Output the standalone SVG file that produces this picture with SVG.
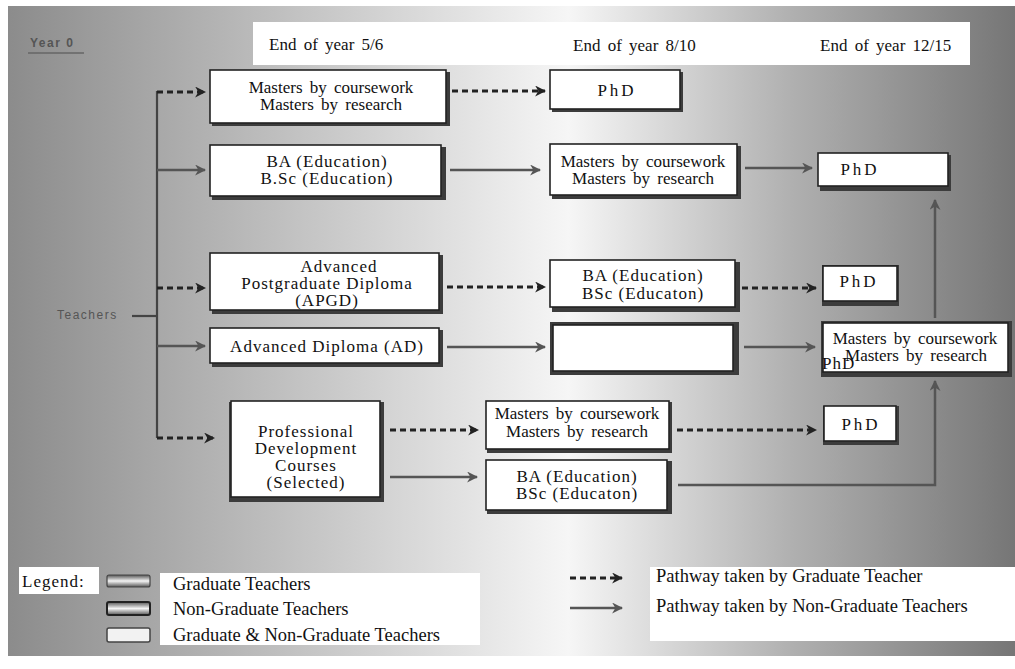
<svg xmlns="http://www.w3.org/2000/svg" width="1015" height="669" viewBox="0 0 1015 669">
  <defs>
    <linearGradient id="bg" x1="0" y1="0" x2="1015" y2="0" gradientUnits="userSpaceOnUse">
      <stop offset="0" stop-color="#8a8a8a"/>
      <stop offset="0.3" stop-color="#c4c4c4"/>
      <stop offset="0.56" stop-color="#f6f6f6"/>
      <stop offset="0.78" stop-color="#b0b0b0"/>
      <stop offset="1" stop-color="#767676"/>
    </linearGradient>
    <linearGradient id="sw" x1="0" y1="0" x2="0" y2="1">
      <stop offset="0" stop-color="#555"/>
      <stop offset="0.5" stop-color="#f4f4f4"/>
      <stop offset="1" stop-color="#555"/>
    </linearGradient>
    <marker id="ah" viewBox="0 0 10 10" refX="9" refY="5" markerWidth="11" markerHeight="11" markerUnits="userSpaceOnUse" orient="auto">
      <path d="M0,0 L10,5 L0,10 L3,5 Z" fill="#222"/>
    </marker>
    <marker id="ahs" viewBox="0 0 10 10" refX="9" refY="5" markerWidth="11" markerHeight="11" markerUnits="userSpaceOnUse" orient="auto">
      <path d="M0,0 L10,5 L0,10 L3,5 Z" fill="#555"/>
    </marker>
  </defs>
  <style>
    .t { font-family: "Liberation Serif", "Times New Roman", serif; font-size: 17px; fill: #111; }
    .lg { font-size: 18.5px; }
    .c { text-anchor: middle; }
    .sp { letter-spacing: 1px; }
    .ph { letter-spacing: 3px; }
    .ws { word-spacing: 3px; }
    .sh { fill: #3c3c3c; }
    .bx { fill: #fff; stroke: #222; stroke-width: 1.6; }
    .dash { fill: none; stroke: #222; stroke-width: 3; stroke-dasharray: 6 4; marker-end: url(#ah); }
    .sol { fill: none; stroke: #555; stroke-width: 2.5; marker-end: url(#ahs); }
    .ln { fill: none; stroke: #444; stroke-width: 2.2; }
    .sans { font-family: "Liberation Sans", Arial, sans-serif; font-size: 12px; fill: #555; letter-spacing: 1.5px; }
  </style>

  <rect x="0" y="0" width="1015" height="669" fill="#fff"/>
  <rect x="8" y="6" width="1007" height="650" fill="url(#bg)"/>

  <g id="header">
    <text class="sans" x="30" y="47" font-weight="bold">Year 0</text>
    <line x1="28" y1="53" x2="84" y2="53" stroke="#666" stroke-width="1.5"/>
    <rect x="253" y="22" width="717" height="43" fill="#fff"/>
    <text class="t ws" x="269" y="50">End of year 5/6</text>
    <text class="t ws" x="573" y="51">End of year 8/10</text>
    <text class="t ws" x="820" y="51">End of year 12/15</text>
  </g>

  <g id="teachers">
    <text class="sans" x="57" y="319" font-size="13">Teachers</text>
  </g>

  <g id="connectors">
    <line class="ln" x1="132" y1="316" x2="157" y2="316"/>
    <line class="ln" x1="157" y1="91" x2="157" y2="438"/>
    <path class="dash" d="M157,92 H205"/>
    <path class="sol" d="M157,170 H205"/>
    <path class="dash" d="M157,288 H205"/>
    <path class="sol" d="M157,346 H205"/>
    <path class="dash" d="M157,438 H214"/>

    <path class="dash" d="M452,91 H545"/>
    <path class="sol" d="M450,170 H540"/>
    <path class="sol" d="M745,168 H812"/>
    <path class="sol" d="M935,318 V200"/>

    <path class="dash" d="M447,287 H545"/>
    <path class="dash" d="M742,288 H816"/>
    <path class="sol" d="M447,347 H545"/>
    <path class="sol" d="M744,347 H815"/>

    <path class="dash" d="M390,430 H478"/>
    <path class="sol" d="M390,477 H477"/>
    <path class="dash" d="M677,430 H816"/>
    <path class="sol" d="M678,485 H935 V381"/>
  </g>

  <g id="n1">
    <rect class="sh" x="212" y="72" width="238" height="54"/>
    <rect class="bx" x="210" y="70" width="236" height="53"/>
    <text class="t c ws" x="331" y="93">Masters by coursework</text>
    <text class="t c ws" x="331" y="110">Masters by research</text>
  </g>
  <g id="n2">
    <rect class="sh" x="552" y="72" width="131" height="40"/>
    <rect class="bx" x="550" y="70" width="130" height="39"/>
    <text class="t c ph" x="617" y="96">PhD</text>
  </g>
  <g id="n3">
    <rect class="sh" x="212" y="147" width="234" height="53"/>
    <rect class="bx" x="210" y="145" width="231" height="51"/>
    <text class="t c sp" x="327" y="167">BA (Education)</text>
    <text class="t c sp" x="327" y="184">B.Sc (Education)</text>
  </g>
  <g id="n4">
    <rect class="sh" x="552" y="146" width="189" height="53"/>
    <rect class="bx" x="550" y="144" width="187" height="51"/>
    <text class="t c ws" x="643" y="167">Masters by coursework</text>
    <text class="t c ws" x="643" y="184">Masters by research</text>
  </g>
  <g id="n5">
    <rect class="sh" x="820" y="155" width="131" height="36"/>
    <rect class="bx" x="818" y="153" width="130" height="33"/>
    <text class="t c ph" x="860" y="175">PhD</text>
  </g>
  <g id="n6">
    <rect class="sh" x="212" y="255" width="231" height="59"/>
    <rect class="bx" x="210" y="253" width="229" height="57"/>
    <text class="t c sp" x="339" y="272">Advanced</text>
    <text class="t c sp" x="327" y="289">Postgraduate Diploma</text>
    <text class="t c sp" x="327" y="306">(APGD)</text>
  </g>
  <g id="n7">
    <rect class="sh" x="552" y="262" width="188" height="50"/>
    <rect class="bx" x="550" y="260" width="185" height="47"/>
    <text class="t c sp" x="643" y="281">BA (Education)</text>
    <text class="t c sp" x="643" y="299">BSc (Educaton)</text>
  </g>
  <g id="n8">
    <rect class="sh" x="822" y="265" width="77" height="41"/>
    <rect class="bx" x="823" y="266" width="74" height="35"/>
    <text class="t c ph" x="859" y="287">PhD</text>
  </g>
  <g id="n9">
    <rect class="sh" x="212" y="330" width="231" height="37"/>
    <rect class="bx" x="210" y="328" width="229" height="35"/>
    <text class="t c sp" x="327" y="352">Advanced Diploma (AD)</text>
  </g>
  <g id="n10">
    <rect class="sh" x="550" y="322" width="189" height="53"/>
    <rect class="bx" x="553" y="325" width="180" height="46"/>
  </g>
  <g id="n11">
    <rect class="sh" x="821" y="321" width="191" height="56"/>
    <rect class="bx" x="823" y="323" width="185" height="49"/>
    <text class="t c ws" x="915" y="344">Masters by coursework</text>
    <text class="t c ws" x="916" y="361">Masters by research</text>
    <text class="t sp" x="822" y="369">PhD</text>
  </g>
  <g id="n12">
    <rect class="sh" x="229" y="402" width="155" height="100"/>
    <rect class="bx" x="231" y="401" width="149" height="96"/>
    <text class="t c sp" x="306" y="437">Professional</text>
    <text class="t c sp" x="306" y="454">Development</text>
    <text class="t c sp" x="306" y="471">Courses</text>
    <text class="t c sp" x="306" y="488">(Selected)</text>
  </g>
  <g id="n13">
    <rect class="sh" x="487" y="402" width="185" height="51"/>
    <rect class="bx" x="486" y="401" width="183" height="48"/>
    <text class="t c ws" x="577" y="419">Masters by coursework</text>
    <text class="t c ws" x="577" y="437">Masters by research</text>
  </g>
  <g id="n14">
    <rect class="sh" x="487" y="461" width="185" height="53"/>
    <rect class="bx" x="486" y="460" width="181" height="50"/>
    <text class="t c sp" x="577" y="482">BA (Education)</text>
    <text class="t c sp" x="577" y="499">BSc (Educaton)</text>
  </g>
  <g id="n15">
    <rect class="sh" x="823" y="406" width="76" height="39"/>
    <rect class="bx" x="824" y="406" width="72" height="35"/>
    <text class="t c ph" x="861" y="430">PhD</text>
  </g>

  <g id="legend">
    <rect x="19" y="567" width="80" height="27" fill="#fff"/>
    <text class="t sp" x="22" y="587">Legend:</text>
    <rect x="107" y="575" width="43" height="12" rx="2" fill="url(#sw)" stroke="#444" stroke-width="1.2"/>
    <rect x="107" y="602" width="43" height="13" rx="2" fill="url(#sw)" stroke="#222" stroke-width="2"/>
    <rect x="107" y="628" width="43" height="14" rx="2" fill="#f2f2f2" stroke="#444" stroke-width="1.5"/>
    <rect x="160" y="573" width="320" height="72" fill="#fff"/>
    <text class="t lg" x="173" y="590">Graduate Teachers</text>
    <text class="t lg" x="173" y="615">Non-Graduate Teachers</text>
    <text class="t lg" x="173" y="641">Graduate &amp; Non-Graduate Teachers</text>
    <path class="dash" d="M570,578 H622" stroke-dasharray="5 4"/>
    <path class="sol" d="M570,608 H622" stroke="#444"/>
    <rect x="650" y="567" width="365" height="74" fill="#fff"/>
    <text class="t lg" x="656" y="582">Pathway taken by Graduate Teacher</text>
    <text class="t lg" x="656" y="612">Pathway taken by Non-Graduate Teachers</text>
  </g>
</svg>
